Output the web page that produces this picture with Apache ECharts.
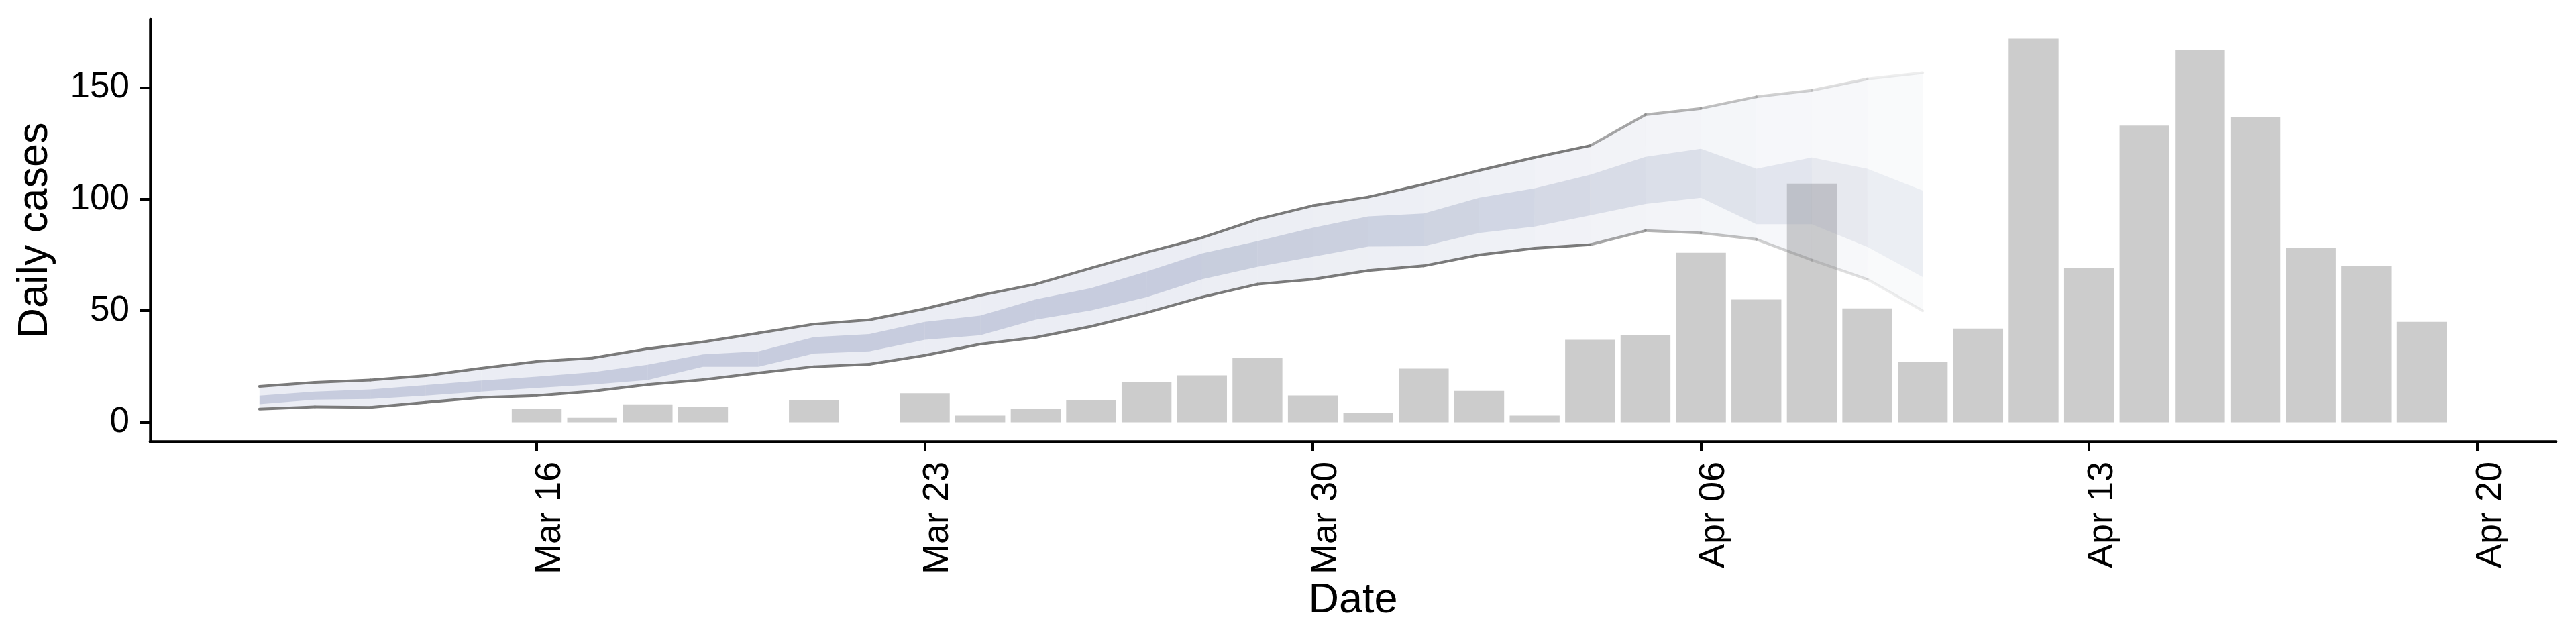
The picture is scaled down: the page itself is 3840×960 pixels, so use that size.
<!DOCTYPE html>
<html>
<head>
<meta charset="utf-8">
<script src="https://cdn.jsdelivr.net/npm/echarts@6/dist/echarts.min.js"></script>
<style>
  html, body { margin: 0; padding: 0; background: #fff; }
  #chart { width: 3840px; height: 960px; }
</style>
</head>
<body>
<div id="chart"></div>
<script>
// ---- data ----
var caseDates = ['2020-03-16','2020-03-17','2020-03-18','2020-03-19','2020-03-20','2020-03-21','2020-03-22',
    '2020-03-23','2020-03-24','2020-03-25','2020-03-26','2020-03-27','2020-03-28','2020-03-29',
    '2020-03-30','2020-03-31','2020-04-01','2020-04-02','2020-04-03','2020-04-04','2020-04-05',
    '2020-04-06','2020-04-07','2020-04-08','2020-04-09','2020-04-10','2020-04-11','2020-04-12',
    '2020-04-13','2020-04-14','2020-04-15','2020-04-16','2020-04-17','2020-04-18','2020-04-19'];
var caseCounts = [6, 2, 8, 7, 0, 10, 0,
    13, 3, 6, 10, 18, 21, 29,
    12, 4, 24, 14, 3, 37, 39,
    76, 55, 107, 51, 27, 42, 172,
    69, 133, 167, 137, 78, 70, 45];

// nowcast ribbon, one point a day from Mar 11 to Apr 10
var bandStart = '2020-03-11';
var hi95 = [16.1, 17.9, 18.9, 20.9, 24.2, 27.2, 28.8, 33.0, 36.0, 40.0, 44.0, 45.9, 50.9, 56.9, 61.9, 69.1,
    76.2, 82.7, 91.0, 97.1, 101.0, 106.7, 112.9, 118.7, 124.0, 137.9, 140.7, 145.9, 148.8, 153.9, 156.7];
var lo95 = [5.9, 6.9, 6.7, 8.9, 11.1, 11.9, 13.9, 16.9, 19.1, 22.1, 24.9, 26.0, 30.0, 35.0, 38.0, 43.0,
    49.1, 56.1, 61.9, 64.1, 68.0, 70.1, 75.0, 78.0, 79.6, 85.9, 84.9, 82.0, 72.7, 64.1, 50.0];
var hi50 = [11.9, 13.7, 14.7, 16.7, 18.7, 20.4, 22.4, 25.8, 30.4, 31.8, 38.2, 39.5, 45.0, 47.8, 55.1, 60.1,
    67.6, 75.7, 81.2, 87.2, 92.3, 93.6, 100.7, 104.9, 111.0, 119.0, 122.6, 113.7, 118.7, 113.7, 103.9];
var lo50 = [8.1, 10.1, 10.4, 11.9, 13.7, 15.4, 16.9, 18.9, 24.9, 24.9, 30.8, 31.8, 37.0, 39.0, 46.0, 50.1,
    56.1, 64.1, 69.7, 74.2, 78.8, 78.9, 84.9, 87.7, 92.8, 97.9, 100.7, 88.8, 88.8, 78.6, 65.1];

var xTickDates = ['2020-03-16','2020-03-23','2020-03-30','2020-04-06','2020-04-13','2020-04-20'];
var yTicks = [0, 50, 100, 150];

// ---- helpers ----
var EPOCH = Date.UTC(2020, 2, 1);
var MONTHS = ['Jan','Feb','Mar','Apr','May','Jun','Jul','Aug','Sep','Oct','Nov','Dec'];
function dayNum(iso){
    var p = iso.split('-');
    return (Date.UTC(+p[0], +p[1] - 1, +p[2]) - EPOCH) / 864e5;
}
function dayLabel(n){
    var d = new Date(EPOCH + Math.round(n) * 864e5);
    var dd = d.getUTCDate();
    return MONTHS[d.getUTCMonth()] + ' ' + (dd < 10 ? '0' + dd : dd);
}

var FONT = '"Liberation Sans", Arial, Helvetica, sans-serif';
var X0 = dayNum(bandStart);

// later days fade out (fill from Mar 27, outline from Apr 4)
function fillFade(s){
    if (s < 16) return 1;
    var t = Math.min(1, (s - 16) / 13);
    return 1 - 0.69 * Math.pow(t, 1.5);
}
function lineFade(s){
    if (s < 24) return 1;
    return Math.max(0.1, 0.67 - 0.108 * (s - 24));
}

var barData = caseDates.map(function(d, i){ return [dayNum(d), caseCounts[i]]; });

var segData = [];
for (var i = 0; i < hi95.length - 1; i++) {
    segData.push([X0 + i, X0 + i + 1, lo95[i], lo95[i + 1], hi95[i], hi95[i + 1],
        lo50[i], lo50[i + 1], hi50[i], hi50[i + 1], i]);
}

function quad(api, xa, xb, la, lb, ha, hb){
    return [api.coord([xa, la]), api.coord([xb, lb]), api.coord([xb, hb]), api.coord([xa, ha])];
}

var chart = echarts.init(document.getElementById('chart'), null, {renderer: 'canvas'});
var option = {
    animation: false,
    backgroundColor: '#ffffff',
    grid: {left: 224, right: 30, top: 29, bottom: 302, outerBoundsMode: 'none'},
    xAxis: {
        type: 'value',
        min: dayNum('2020-03-09') + 0.03,
        max: dayNum('2020-04-21') + 0.42,
        name: 'Date',
        nameLocation: 'middle',
        nameGap: 200,
        nameTextStyle: {fontFamily: FONT, fontSize: 63, color: '#000'},
        axisLine: {show: true, onZero: false, lineStyle: {color: '#000', width: 4.5}},
        axisTick: {show: true, length: 15, lineStyle: {color: '#000', width: 4},
            customValues: xTickDates.map(dayNum)},
        axisLabel: {
            show: true, rotate: 90, margin: 30, verticalAlign: 'top', lineHeight: 40,
            fontFamily: FONT, fontSize: 54, color: '#000',
            customValues: xTickDates.map(dayNum),
            formatter: function(v){ return dayLabel(v); }
        },
        splitLine: {show: false}
    },
    yAxis: {
        type: 'value',
        min: -8.6,
        max: 180.6,
        name: 'Daily cases',
        nameLocation: 'middle',
        nameGap: 140,
        nameTextStyle: {fontFamily: FONT, fontSize: 63, color: '#000'},
        axisLine: {show: true, onZero: false, lineStyle: {color: '#000', width: 4.5}},
        axisTick: {show: true, length: 15, lineStyle: {color: '#000', width: 4}, customValues: yTicks},
        axisLabel: {show: true, margin: 31, fontFamily: FONT, fontSize: 53, color: '#000', customValues: yTicks},
        splitLine: {show: false}
    },
    series: [
        {   // daily case bars
            type: 'custom',
            data: barData,
            encode: {x: 0, y: 1},
            renderItem: function(params, api){
                var x = api.value(0), v = api.value(1);
                var a = api.coord([x - 0.45, v]);
                var b = api.coord([x + 0.45, 0]);
                return {type: 'rect', shape: {x: a[0], y: a[1], width: b[0] - a[0], height: b[1] - a[1]},
                    style: {fill: '#cccccc'}};
            },
            z: 1
        },
        {   // 95% and 50% ribbons, drawn a day at a time
            type: 'custom',
            data: segData,
            encode: {x: [0, 1], y: [2, 3, 4, 5]},
            renderItem: function(params, api){
                var xa = api.value(0), xb = api.value(1), f = fillFade(api.value(10));
                return {type: 'group', children: [
                    {type: 'polygon', shape: {points: quad(api, xa, xb, api.value(2), api.value(3), api.value(4), api.value(5))},
                        style: {fill: 'rgb(184,192,214)', opacity: 0.28 * f}},
                    {type: 'polygon', shape: {points: quad(api, xa, xb, api.value(6), api.value(7), api.value(8), api.value(9))},
                        style: {fill: 'rgb(150,160,190)', opacity: 0.42 * f}}
                ]};
            },
            z: 2
        },
        {   // 95% outline
            type: 'custom',
            data: segData,
            encode: {x: [0, 1], y: [2, 3, 4, 5]},
            renderItem: function(params, api){
                var xa = api.value(0), xb = api.value(1), o = lineFade(api.value(10));
                var st = {stroke: '#7a7a7a', lineWidth: 4, opacity: o, lineCap: 'round'};
                var l0 = api.coord([xa, api.value(2)]), l1 = api.coord([xb, api.value(3)]);
                var h0 = api.coord([xa, api.value(4)]), h1 = api.coord([xb, api.value(5)]);
                return {type: 'group', children: [
                    {type: 'line', shape: {x1: l0[0], y1: l0[1], x2: l1[0], y2: l1[1]}, style: st},
                    {type: 'line', shape: {x1: h0[0], y1: h0[1], x2: h1[0], y2: h1[1]}, style: st}
                ]};
            },
            z: 3
        }
    ]
};
chart.setOption(option);
</script>
</body>
</html>
